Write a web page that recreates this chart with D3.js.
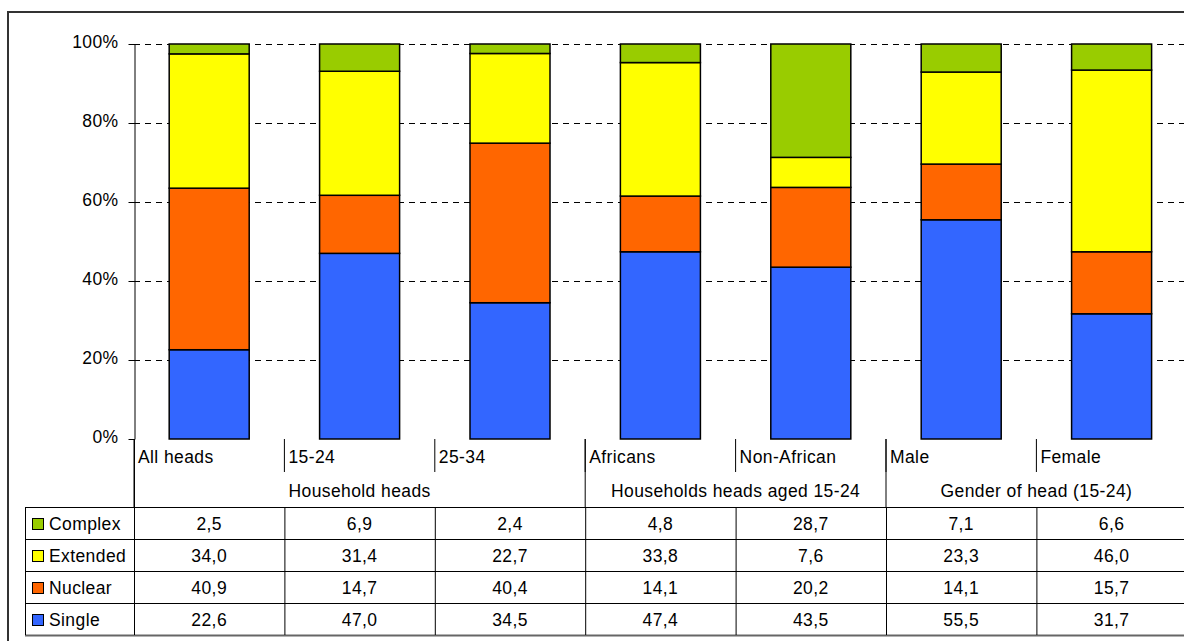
<!DOCTYPE html>
<html>
<head>
<meta charset="utf-8">
<script src="https://cdn.jsdelivr.net/npm/d3@7"></script>
<style>
  body { margin: 0; background: #fff; }
  svg text { font-family: "Liberation Sans", Arial, sans-serif; fill: #000; letter-spacing: 0.4px; }
</style>
</head>
<body>
<div id="chart"></div>
<script>
// chart data
const categories = ["All heads", "15-24", "25-34", "Africans", "Non-African", "Male", "Female"];
const groups = [
  {label: "Household heads", from: 0, to: 3},
  {label: "Households heads aged 15-24", from: 3, to: 5},
  {label: "Gender of head (15-24)", from: 5, to: 7}
];
const seriesNames = ["Single", "Nuclear", "Extended", "Complex"];
const single   = [22.6, 47.0, 34.5, 47.4, 43.5, 55.5, 31.7];
const nuclear  = [40.9, 14.7, 40.4, 14.1, 20.2, 14.1, 15.7];
const extended = [34.0, 31.4, 22.7, 33.8, 7.6, 23.3, 46.0];
const complex  = [2.5, 6.9, 2.4, 4.8, 28.7, 7.1, 6.6];
const yTicks = [0, 20, 40, 60, 80, 100];

const colors = {Single: "#3366ff", Nuclear: "#ff6600", Extended: "#ffff00", Complex: "#99cc00"};
const seriesValues = {Single: single, Nuclear: nuclear, Extended: extended, Complex: complex};

// layout
const W = 1184, H = 641;
const plotLeft = 134, plotTop = 44, plotBottom = 439;
const colW = 150.4;
const tableLeft = 25;
const rowH = 32;
const catRowBottom = 472, groupRowBottom = 507;
const fontSize = 17.5;

const svg = d3.select("#chart").append("svg")
  .attr("width", W)
  .attr("height", H);

// outer frame
svg.append("rect")
  .attr("x", 8).attr("y", 12)
  .attr("width", W + 20).attr("height", H)
  .attr("fill", "none")
  .attr("stroke", "#333")
  .attr("stroke-width", 2);

const xScale = d3.scaleBand()
  .domain(categories)
  .range([plotLeft, plotLeft + colW * categories.length])
  .paddingInner(0.468)
  .paddingOuter(0.234);

const yScale = d3.scaleLinear()
  .domain([0, 100])
  .range([plotBottom, plotTop]);

// dashed gridlines
svg.append("g")
  .selectAll("line")
  .data(yTicks.filter(d => d > 0))
  .join("line")
  .attr("x1", plotLeft)
  .attr("x2", W)
  .attr("y1", d => yScale(d) + 0.5)
  .attr("y2", d => yScale(d) + 0.5)
  .attr("stroke", "#000")
  .attr("stroke-dasharray", "6,5");

// y axis
const yAxis = svg.append("g")
  .attr("transform", `translate(${plotLeft + 0.5},0)`)
  .call(d3.axisLeft(yScale).tickValues(yTicks).tickFormat(d => d + "%").tickSize(6).tickSizeOuter(0));
yAxis.select(".domain").attr("stroke", "#000");
yAxis.selectAll(".tick line").attr("stroke", "#000");
yAxis.selectAll(".tick text")
  .attr("x", -16)
  .attr("dy", "0.2em")
  .attr("font-size", fontSize)
  .style("font-family", "Liberation Sans, Arial, sans-serif");

// stacked bars
const stackData = categories.map((c, i) => {
  const row = {category: c};
  seriesNames.forEach(s => { row[s] = seriesValues[s][i]; });
  return row;
});
const stacked = d3.stack().keys(seriesNames)(stackData);

svg.append("g")
  .selectAll("g")
  .data(stacked)
  .join("g")
  .attr("fill", d => colors[d.key])
  .selectAll("rect")
  .data(d => d)
  .join("rect")
  .attr("x", d => xScale(d.data.category))
  .attr("y", d => yScale(Math.min(d[1], 100)))
  .attr("width", xScale.bandwidth())
  .attr("height", d => yScale(d[0]) - yScale(Math.min(d[1], 100)))
  .attr("stroke", "#000")
  .attr("stroke-width", 1.5);

// data table below the chart
const table = svg.append("g");
const colX = i => plotLeft + colW * i;
const tableRight = colX(categories.length);

// category labels row
table.selectAll("text.cat")
  .data(categories)
  .join("text")
  .attr("class", "cat")
  .attr("x", (d, i) => colX(i) + 4)
  .attr("y", 463)
  .attr("font-size", fontSize)
  .text(d => d);

// short separators in category row
table.selectAll("line.catsep")
  .data(d3.range(1, categories.length))
  .join("line")
  .attr("x1", i => colX(i)).attr("x2", i => colX(i))
  .attr("y1", plotBottom).attr("y2", catRowBottom)
  .attr("stroke", "#000");

// group labels
table.selectAll("text.grp")
  .data(groups)
  .join("text")
  .attr("x", d => (colX(d.from) + colX(d.to)) / 2)
  .attr("y", 497)
  .attr("text-anchor", "middle")
  .attr("font-size", fontSize)
  .text(d => d.label);

// group separators (full height through group row)
table.selectAll("line.grpsep")
  .data(groups.map(g => g.from).concat([categories.length]))
  .join("line")
  .attr("x1", i => colX(i)).attr("x2", i => colX(i))
  .attr("y1", plotBottom).attr("y2", groupRowBottom)
  .attr("stroke", "#000");

// data rows, top to bottom: Complex, Extended, Nuclear, Single
const rowOrder = seriesNames.slice().reverse();
const fmt = v => d3.format(".1f")(v).replace(".", ",");

rowOrder.forEach((s, r) => {
  const y0 = groupRowBottom + r * rowH;
  const row = table.append("g");
  row.append("rect")
    .attr("x", 32.5).attr("y", y0 + 11.5)
    .attr("width", 11).attr("height", 11)
    .attr("fill", colors[s])
    .attr("stroke", "#000");
  row.append("text")
    .attr("x", 49).attr("y", y0 + 23)
    .attr("font-size", fontSize)
    .text(s);
  row.selectAll("text.val")
    .data(seriesValues[s])
    .join("text")
    .attr("x", (d, i) => colX(i) + colW / 2)
    .attr("y", y0 + 23)
    .attr("text-anchor", "middle")
    .attr("font-size", fontSize)
    .text(d => fmt(d));
});

// table grid
const tableBottom = groupRowBottom + rowOrder.length * rowH;
d3.range(rowOrder.length + 1).forEach(r => {
  table.append("line")
    .attr("x1", tableLeft).attr("x2", tableRight)
    .attr("y1", groupRowBottom + r * rowH + 0.5).attr("y2", groupRowBottom + r * rowH + 0.5)
    .attr("stroke", r === rowOrder.length ? "#666" : "#000")
    .attr("stroke-width", r === rowOrder.length ? 2 : 1);
});
d3.range(categories.length + 1).forEach(i => {
  table.append("line")
    .attr("x1", colX(i) + 0.5).attr("x2", colX(i) + 0.5)
    .attr("y1", groupRowBottom).attr("y2", tableBottom)
    .attr("stroke", "#000");
});
table.append("line")
  .attr("x1", tableLeft + 0.5).attr("x2", tableLeft + 0.5)
  .attr("y1", groupRowBottom).attr("y2", tableBottom)
  .attr("stroke", "#000");
table.append("line")
  .attr("x1", plotLeft + 0.5).attr("x2", plotLeft + 0.5)
  .attr("y1", plotBottom).attr("y2", groupRowBottom)
  .attr("stroke", "#000");
</script>
</body>
</html>
